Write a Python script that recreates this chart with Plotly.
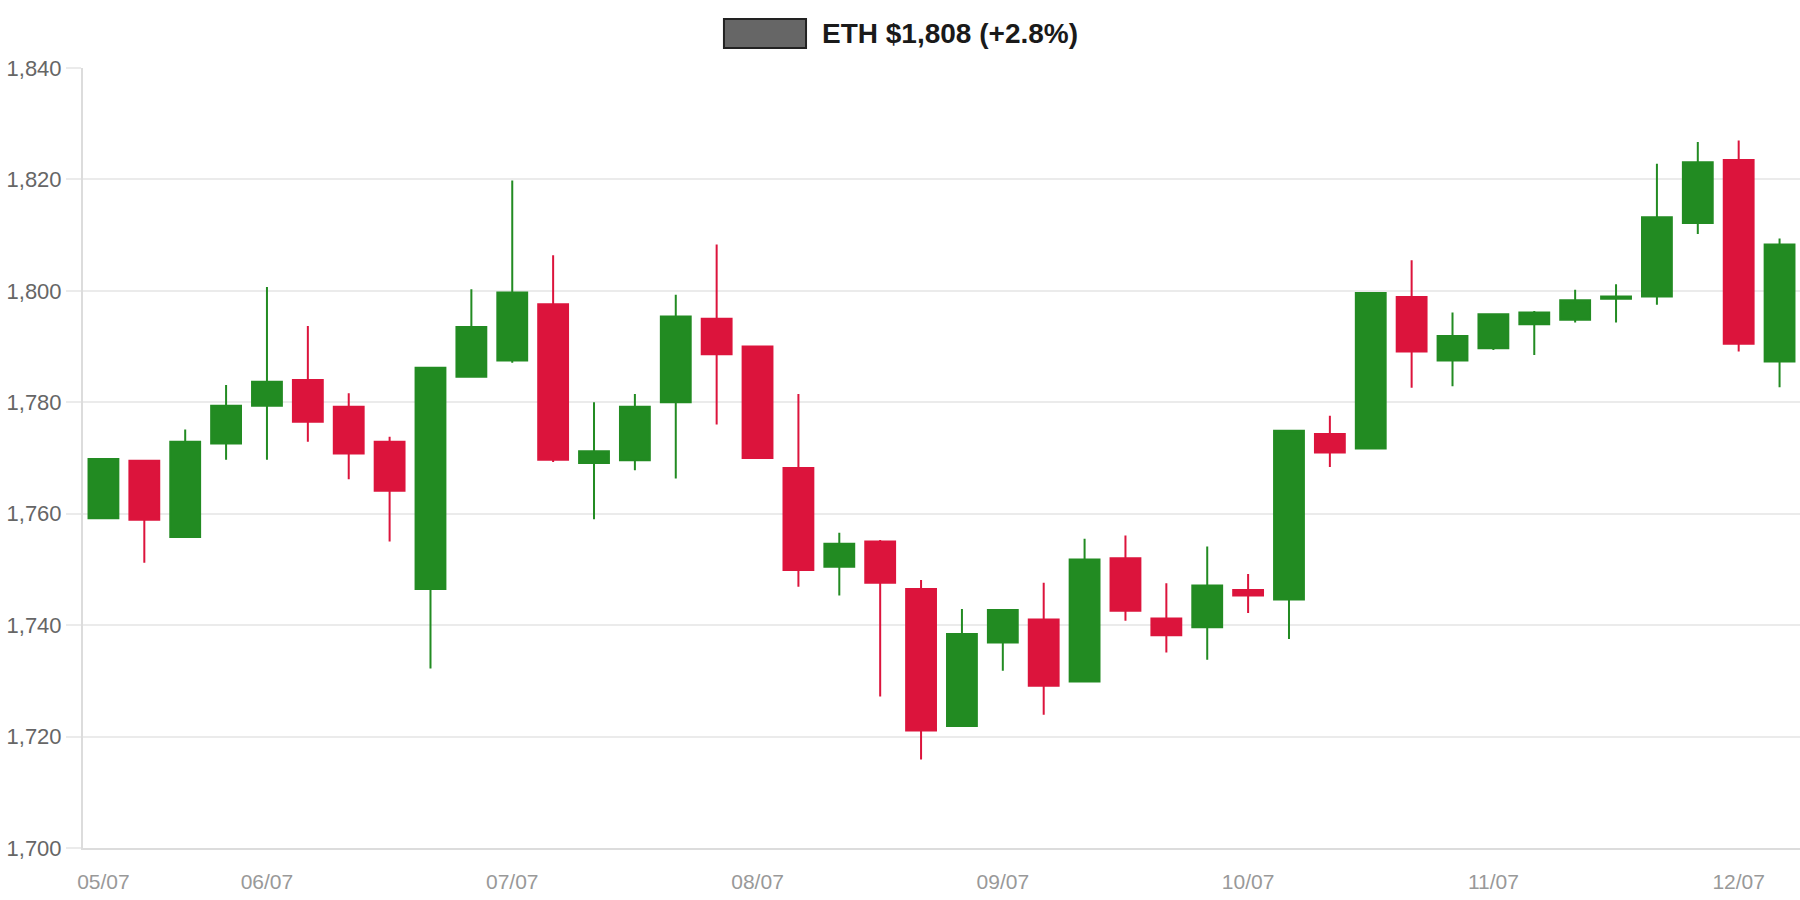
import pandas as pd
import plotly.graph_objects as go

# 4-hour candles, 05/07 08:00 -> 12/07 04:00
times = pd.date_range("2023-07-05 08:00", periods=42, freq="4h")

open_ = [1759.2, 1769.5, 1755.8, 1772.6, 1779.4, 1784.0, 1779.2, 1772.9, 1746.5, 1784.6,
         1787.5, 1797.6, 1769.1, 1769.6, 1780.0, 1795.0, 1790.0, 1768.2, 1750.5, 1755.0,
         1746.5, 1721.9, 1736.9, 1741.0, 1729.9, 1752.0, 1741.2, 1739.6, 1746.3, 1744.6,
         1774.3, 1771.7, 1798.9, 1787.5, 1789.7, 1794.0, 1794.8, 1798.6, 1799.0, 1812.2,
         1823.5, 1787.3]
high = [1769.8, 1769.5, 1775.1, 1783.1, 1800.7, 1793.7, 1781.6, 1773.8, 1786.2, 1800.3,
        1819.8, 1806.4, 1780.0, 1781.5, 1799.3, 1808.3, 1790.0, 1781.5, 1756.6, 1755.3,
        1748.1, 1742.9, 1742.7, 1747.6, 1755.5, 1756.1, 1747.5, 1754.1, 1749.2, 1775.0,
        1777.6, 1799.6, 1805.5, 1796.1, 1796.0, 1796.4, 1800.2, 1801.2, 1822.8, 1826.7,
        1827.0, 1809.4]
low = [1759.2, 1751.2, 1755.8, 1769.7, 1769.7, 1772.9, 1766.2, 1755.0, 1732.2, 1784.6,
       1787.1, 1769.3, 1759.0, 1767.8, 1766.3, 1776.0, 1769.9, 1746.9, 1745.3, 1727.2,
       1715.9, 1721.9, 1731.8, 1723.9, 1729.9, 1740.8, 1735.1, 1733.8, 1742.2, 1737.5,
       1768.4, 1771.7, 1782.6, 1782.9, 1789.4, 1788.5, 1794.3, 1794.3, 1797.5, 1810.2,
       1789.1, 1782.7]
close = [1769.8, 1758.9, 1772.9, 1779.4, 1783.7, 1776.5, 1770.8, 1764.1, 1786.2, 1793.5,
         1799.7, 1769.7, 1771.2, 1779.2, 1795.4, 1788.6, 1770.0, 1749.9, 1754.6, 1747.6,
         1721.1, 1738.4, 1742.7, 1729.1, 1751.8, 1742.6, 1738.2, 1747.1, 1745.3, 1774.9,
         1771.0, 1799.6, 1789.1, 1791.9, 1795.8, 1796.1, 1798.3, 1799.0, 1813.2, 1823.1,
         1790.5, 1808.3]

tick_times = [times[0]] + list(pd.date_range("2023-07-06", "2023-07-12", freq="D"))
tick_text = ["05/07", "06/07", "07/07", "08/07", "09/07", "10/07", "11/07", "12/07"]
y_ticks = [1700, 1720, 1740, 1760, 1780, 1800, 1820, 1840]

UP = "#228B22"
DOWN = "#DC143C"
GRID = "#ebebeb"

fig = go.Figure(go.Candlestick(
    x=times, open=open_, high=high, low=low, close=close,
    increasing=dict(line=dict(color=UP, width=2), fillcolor=UP),
    decreasing=dict(line=dict(color=DOWN, width=2), fillcolor=DOWN),
    whiskerwidth=0, showlegend=False, name="ETH",
))

half = pd.Timedelta(hours=2)
fig.update_layout(
    width=1800, height=900,
    margin=dict(l=83, r=0, t=68, b=52),
    paper_bgcolor="white", plot_bgcolor="white",
    font=dict(family="Liberation Sans, Arial, sans-serif"),
    boxgap=0.27, boxgroupgap=0,
    showlegend=False,
    xaxis=dict(
        range=[times[0] - half, times[-1] + half],
        rangeslider=dict(visible=False),
        tickmode="array", tickvals=tick_times, ticktext=tick_text,
        showgrid=False, zeroline=False,
        showline=True, linecolor="#dcdcdc", linewidth=2,
        ticks="outside", ticklen=14, tickcolor="rgba(0,0,0,0)",
        tickfont=dict(size=21, color="#999999"),
    ),
    yaxis=dict(
        range=[1700, 1840], tickmode="array", tickvals=y_ticks,
        tickformat=",",
        showgrid=True, gridcolor=GRID, gridwidth=2, zeroline=False,
        showline=True, linecolor="#dcdcdc", linewidth=2,
        ticks="outside", ticklen=15, tickcolor=GRID, tickwidth=2,
        tickfont=dict(size=22, color="#666666"),
    ),
)

# custom legend: gray box + bold label
fig.add_shape(type="rect", xref="paper", yref="paper",
              x0=0.3733, x1=0.4211, y0=1.0256, y1=1.0628,
              fillcolor="#666666", line=dict(color="#222222", width=2))
fig.add_annotation(xref="paper", yref="paper", x=0.4292, y=1.0442,
                   xanchor="left", yanchor="middle", showarrow=False,
                   text="<b>ETH $1,808 (+2.8%)</b>",
                   font=dict(size=28, color="#1a1a1a"))

fig.write_html("out.html")
